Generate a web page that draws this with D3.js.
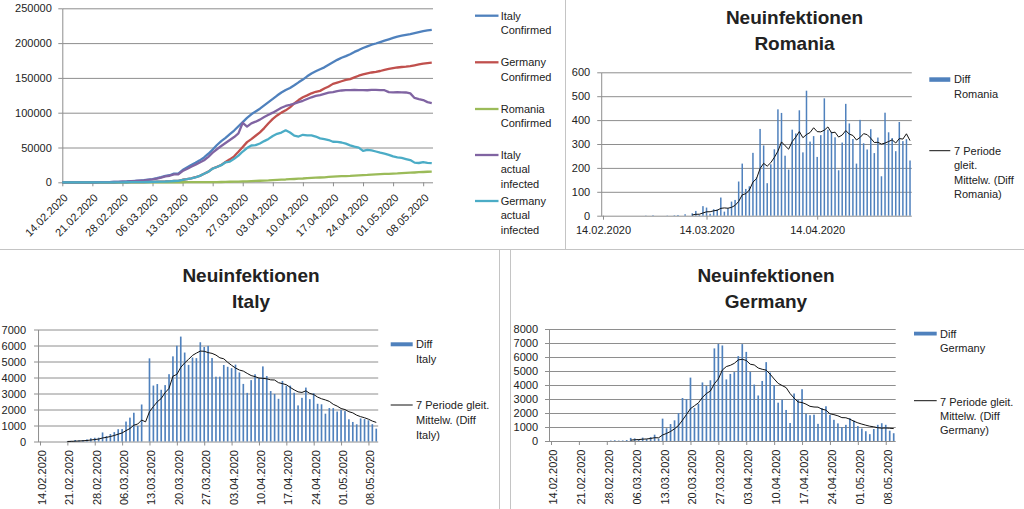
<!DOCTYPE html>
<html><head><meta charset="utf-8">
<script src="https://cdn.jsdelivr.net/npm/d3@7"></script>
<style>
body{margin:0;background:#fff;}
svg{display:block;font-family:"Liberation Sans",Arial,sans-serif;}
</style></head><body>
<svg id="c" width="1024" height="509"></svg>
<script>
// ---------- DATA ----------
const firstDay = "14.02.2020", lastDay = "10.05.2020";
const weekTicks = ["14.02.2020","21.02.2020","28.02.2020","06.03.2020","13.03.2020","20.03.2020","27.03.2020","03.04.2020","10.04.2020","17.04.2020","24.04.2020","01.05.2020","08.05.2020"];
const monthTicks = ["14.02.2020","14.03.2020","14.04.2020"];
const topYTicks = [0,50000,100000,150000,200000,250000];
const roYTicks = [0,100,200,300,400,500,600];
const itYTicks = [0,1000,2000,3000,4000,5000,6000,7000];
const deYTicks = [0,1000,2000,3000,4000,5000,6000,7000,8000];
// first day on which the moving-average trendline is visible
const trendStartRo = "10.03.2020", trendStartIt = "21.02.2020", trendStartDe = "04.03.2020";

const italyConfirmed = [3,3,3,3,3,3,3,20,62,155,229,322,453,655,888,1128,1694,2036,2502,3089,3858,4636,5883,7375,9172,10149,12462,12462,17660,21157,24747,27980,31506,35713,41035,47021,53578,59138,63927,69176,74386,80589,86498,92472,97689,101739,105792,110574,115242,119827,124632,128948,132547,135586,139422,143626,147577,152271,156363,159516,162488,165155,168941,172434,175925,178972,181228,183957,187327,189973,192994,195351,197675,199414,201505,203591,205463,207428,209328,210717,211938,213013,214457,215858,217185,218268,219070];
const germanyConfirmed = [16,16,16,16,16,16,16,16,16,16,16,17,27,46,48,79,130,159,196,262,482,670,799,1040,1176,1457,1908,2078,3675,4585,5795,7272,9257,12327,15320,19848,22213,24873,29056,32986,37323,43938,50871,57695,62095,66885,71808,77872,84794,91159,96092,100123,103374,107663,113296,118181,122171,124908,127854,130072,131359,134753,137698,141397,143342,145184,147065,148291,150648,153129,154999,156513,157770,158758,159912,161539,163009,164077,164967,165664,166152,167007,168162,169430,170588,171324,171879];
const romaniaConfirmed = [0,0,0,0,0,0,0,0,0,0,0,0,1,1,3,3,3,3,4,4,6,9,9,15,15,25,45,49,89,123,131,158,184,260,277,308,367,433,576,794,906,1029,1292,1452,1815,2109,2245,2460,2738,3183,3613,3864,4057,4417,4761,5202,5467,5990,6300,6633,6879,7216,7707,8067,8418,8746,8936,9242,9710,10096,10417,10635,11036,11339,11616,11978,12240,12567,12732,13163,13512,13837,14107,14499,14811,15131,15362];
const italyActual = [3,3,3,3,3,3,3,20,61,153,228,321,450,610,842,1082,1611,1887,2342,2813,3444,4113,5294,6753,8448,9425,11417,11417,16221,19191,22412,25231,28565,31688,36595,42581,47506,52114,56495,60850,65024,70228,85500,80088,84659,87119,90063,93727,96964,100069,103636,107133,109710,111194,112931,115156,117122,119737,122152,124081,125358,127063,128777,129707,130998,131917,132351,132357,132784,132397,132496,132231,132747,132790,132564,132339,129518,129179,129414,129063,129059,127782,121212,119582,118162,115237,113884];
const germanyActual = [15,15,15,15,4,4,4,2,2,2,2,3,13,30,32,63,114,143,180,246,466,653,781,1022,1158,1439,1883,2053,3629,4539,5749,7205,9190,12222,15207,19668,21980,24607,28790,29743,33776,38265,44213,49214,52884,53385,55708,59172,62354,66584,69692,71423,74674,71582,66996,65774,68258,67508,67554,65772,63159,62153,60698,58283,57942,57184,55565,53091,51248,49829,45199,46713,45770,44258,42512,41139,39509,37177,35967,35064,33452,31907,28262,27730,28888,28024,27479];

const italyDiff = [0,0,0,0,0,0,0,17,42,93,74,93,131,202,233,240,566,342,466,587,769,778,1247,1492,1797,977,2313,0,5198,3497,3590,3233,3526,4207,5322,5986,6557,5560,4789,5249,5210,6203,5909,5974,5217,4050,4053,4782,4668,4585,4805,4316,3599,3039,3836,4204,3951,4694,4092,3153,2972,2667,3786,3493,3491,3047,2256,2729,3370,2646,3021,2357,2324,1739,2091,2086,1872,1965,1900,1389,1221,1075,1444,1401,1327,1083,802];
const germanyDiff = [null,null,null,null,null,null,null,null,null,null,null,null,null,null,2,31,51,29,37,66,220,188,129,241,136,281,451,170,1597,910,1210,1477,1985,3070,2993,4528,2365,2660,4183,3930,4337,6615,6933,6824,4400,4790,4923,6064,6922,6365,4933,4031,3251,4289,5633,4885,3990,2737,2946,2218,1287,3394,2945,3699,1945,1842,1881,1226,2357,2481,1870,1514,1257,988,1154,1627,1470,1068,890,697,488,855,1155,1268,1158,736,555];
const romaniaDiff = [null,null,null,null,null,null,null,null,null,null,null,null,1,0,2,0,0,0,1,0,2,3,0,6,0,10,20,4,40,34,8,27,26,76,17,31,59,66,143,218,112,123,263,160,363,294,136,215,278,445,430,251,193,360,344,441,265,523,310,333,246,337,491,360,351,328,190,306,468,386,321,218,401,303,277,362,262,327,165,431,349,325,270,392,312,320,231];

// ---------- SETUP ----------
const parse = d3.utcParse("%d.%m.%Y");
const fmt = d3.utcFormat("%d.%m.%Y");
const days = d3.utcDay.range(parse(firstDay), d3.utcDay.offset(parse(lastDay), 1));
const svg = d3.select("#c");
const GRID = "#8e8e8e", TXT = "#222", BAR = "#4F81BD", FONT = "Liberation Sans, Arial, sans-serif";
const COL = {itC:"#4F81BD", deC:"#C0504D", roC:"#9BBB59", itA:"#8064A2", deA:"#4BACC6"};

function movingAvg(vals, n){
  return vals.map((v,i)=>{
    if(i < n-1) return null;
    const w = vals.slice(i-n+1, i+1);
    if(w.some(x=>x==null)) return null;
    return d3.mean(w);
  });
}
function styleAxis(s, fs){
  s.attr("font-family", FONT).attr("font-size", fs || 11);
  s.selectAll("text").attr("fill", TXT);
  s.selectAll("line").attr("stroke", GRID);
  s.select(".domain").attr("stroke", GRID);
}
function text(x, y, str, opt){
  opt = opt || {};
  svg.append("text").attr("x", x).attr("y", y).attr("dy", opt.dy === undefined ? "0.35em" : opt.dy)
    .attr("font-family", FONT).attr("font-size", opt.size || 11)
    .attr("font-weight", opt.weight || "normal").attr("fill", TXT)
    .attr("text-anchor", opt.anchor || "start").text(str);
}

// panel dividers
svg.append("line").attr("x1",565.5).attr("x2",565.5).attr("y1",0).attr("y2",249).attr("stroke","#c4c4c4");
svg.append("line").attr("x1",0).attr("x2",1024).attr("y1",249.5).attr("y2",249.5).attr("stroke","#c4c4c4");
svg.append("line").attr("x1",499.5).attr("x2",499.5).attr("y1",250).attr("y2",509).attr("stroke","#c4c4c4");
svg.append("line").attr("x1",510.5).attr("x2",510.5).attr("y1",250).attr("y2",509).attr("stroke","#c4c4c4");

// ---------- TOP-LEFT LINE CHART ----------
(function(){
  const left = 62.3, step = 4.296, right = 433;
  const x = d3.scaleUtc().domain([days[0], days[days.length-1]]).range([left, left + (days.length-1)*step]);
  const y = d3.scaleLinear().domain([0, 250000]).range([182.3, 8.3]);
  const g = svg.append("g");
  g.append("g").attr("transform",`translate(${left},0)`)
    .call(d3.axisLeft(y).tickValues(topYTicks).tickSize(-(right-left)).tickFormat(""))
    .call(s=>{ s.select(".domain").remove(); s.selectAll("line").attr("stroke", GRID); });
  g.append("g").attr("transform",`translate(${left},0)`)
    .call(d3.axisLeft(y).tickValues(topYTicks).tickSize(4).tickPadding(6.5).tickSizeOuter(0).tickFormat(d3.format("d")))
    .call(s=>styleAxis(s));
  g.append("g").attr("transform",`translate(0,${y(0)})`)
    .call(d3.axisBottom(x).tickValues(weekTicks.map(parse)).tickSize(4).tickFormat(fmt))
    .call(s=>{ styleAxis(s); s.select(".domain").remove();
      s.selectAll("text").attr("transform","rotate(-45)").attr("text-anchor","end")
        .attr("x",-7.2).attr("y",11.6).attr("dy","0.35em"); });
  const series = [
    {v: italyConfirmed, c: COL.itC},
    {v: germanyConfirmed, c: COL.deC},
    {v: romaniaConfirmed, c: COL.roC},
    {v: italyActual, c: COL.itA},
    {v: germanyActual, c: COL.deA}
  ];
  const line = d3.line().x((d,i)=>x(days[i])).y(d=>y(d));
  series.forEach(s=>{
    g.append("path").datum(s.v).attr("d", line).attr("fill","none")
      .attr("stroke", s.c).attr("stroke-width", 2.3).attr("stroke-linejoin","round");
  });
  const leg = [
    {t:["Italy","Confirmed"], c:COL.itC, y:15.7},
    {t:["Germany","Confirmed"], c:COL.deC, y:62.3},
    {t:["Romania","Confirmed"], c:COL.roC, y:109},
    {t:["Italy","actual","infected"], c:COL.itA, y:155},
    {t:["Germany","actual","infected"], c:COL.deA, y:201}
  ];
  leg.forEach(l=>{
    svg.append("line").attr("x1",475).attr("x2",498.5).attr("y1",l.y).attr("y2",l.y)
      .attr("stroke",l.c).attr("stroke-width",2.3);
    l.t.forEach((t,k)=>text(500.7, l.y + k*14.4, t));
  });
})();

// ---------- BAR PANELS ----------
function barPanel(o){
  const g = svg.append("g");
  const n = days.length;
  const x = d3.scaleUtc().domain([days[0], days[n-1]]).range([o.x0, o.x0 + (n-1)*o.step]);
  const axisX = o.x0 - o.step/2, right = o.x0 + (n-0.5)*o.step;
  const y = d3.scaleLinear().domain([0, o.yMax]).range([o.yb, o.yt]);
  g.append("g").attr("transform",`translate(${axisX},0)`)
    .call(d3.axisLeft(y).tickValues(o.yTicks).tickSize(-(right-axisX)).tickFormat(""))
    .call(s=>{ s.select(".domain").remove(); s.selectAll("line").attr("stroke", GRID); });
  g.append("g").attr("transform",`translate(${axisX},0)`)
    .call(d3.axisLeft(y).tickValues(o.yTicks).tickSize(4).tickPadding(o.pad).tickSizeOuter(0).tickFormat(d3.format("d")))
    .call(s=>styleAxis(s));
  const xa = g.append("g").attr("transform",`translate(0,${y(0)})`)
    .call(d3.axisBottom(x).tickValues(o.xTicks.map(parse)).tickSize(4).tickPadding(7).tickFormat(fmt))
    .call(s=>{ styleAxis(s); s.select(".domain").remove(); });
  if(o.rotate){
    xa.selectAll("text").attr("transform","rotate(-90)").attr("text-anchor","end")
      .attr("x",-8.5).attr("y",0).attr("dy","0.5em");
  }
  const bw = o.step*0.42;
  const pts = o.values.map((v,i)=>({d:days[i], v:v})).filter(p=>p.v!=null && p.v>0);
  g.append("g").selectAll("rect").data(pts).join("rect")
    .attr("x",p=>x(p.d)-bw/2).attr("width",bw)
    .attr("y",p=>y(p.v)).attr("height",p=>y(0)-y(p.v)).attr("fill",BAR);
  const ma = movingAvg(o.values, 7);
  const t0 = parse(o.trendStart);
  g.append("path").datum(ma)
    .attr("d", d3.line().defined((v,i)=>v!=null && days[i] >= t0).x((v,i)=>x(days[i])).y(v=>y(v)))
    .attr("fill","none").attr("stroke","#111").attr("stroke-width",1);
  // title
  text(o.tc, o.tb1, "Neuinfektionen", {size:19, weight:"bold", anchor:"middle", dy:0});
  text(o.tc, o.tb2, o.name, {size:19, weight:"bold", anchor:"middle", dy:0});
  // legend
  const L = o.leg;
  svg.append("rect").attr("x",L.sx).attr("y",L.sy).attr("width",L.sw).attr("height",L.sh).attr("fill",BAR);
  L.t1.forEach((t,k)=>text(L.tx, L.ty1[k], t));
  svg.append("line").attr("x1",L.sx).attr("x2",L.sx+L.sw).attr("y1",L.ly).attr("y2",L.ly).attr("stroke","#111").attr("stroke-width",1);
  L.t2.forEach((t,k)=>text(L.tx, L.ty2[k], t));
}

barPanel({
  name:"Romania", values: romaniaDiff, x0:603, step:3.57, yMax:600, yt:72.3, yb:215.7,
  yTicks: roYTicks, pad:7, xTicks: monthTicks, rotate:false, trendStart: trendStartRo,
  tc:794.5, tb1:24, tb2:50,
  leg:{sx:929.3, sy:77.3, sw:21, sh:4.5, tx:954,
       t1:["Diff","Romania"], ty1:[79.3,94],
       ly:150.7, t2:["7 Periode","gleit.","Mittelw. (Diff","Romania)"], ty2:[150.7,165.5,180,194.5]}
});
barPanel({
  name:"Italy", values: italyDiff, x0:40, step:3.91, yMax:7000, yt:329.5, yb:441.5,
  yTicks: itYTicks, pad:8, xTicks: weekTicks, rotate:true, trendStart: trendStartIt,
  tc:251, tb1:282, tb2:308,
  leg:{sx:390.7, sy:342.3, sw:22, sh:4, tx:416,
       t1:["Diff","Italy"], ty1:[344,359],
       ly:405, t2:["7 Periode gleit.","Mittelw. (Diff","Italy)"], ty2:[405,420,435]}
});
barPanel({
  name:"Germany", values: germanyDiff, x0:551, step:3.985, yMax:8000, yt:329, yb:441,
  yTicks: deYTicks, pad:7, xTicks: weekTicks, rotate:true, trendStart: trendStartDe,
  tc:766, tb1:282, tb2:308,
  leg:{sx:914, sy:331.7, sw:22.7, sh:3.8, tx:940,
       t1:["Diff","Germany"], ty1:[334,348.3],
       ly:400.7, t2:["7 Periode gleit.","Mittelw. (Diff","Germany)"], ty2:[401.7,416.3,430.3]}
});
</script>
</body></html>
